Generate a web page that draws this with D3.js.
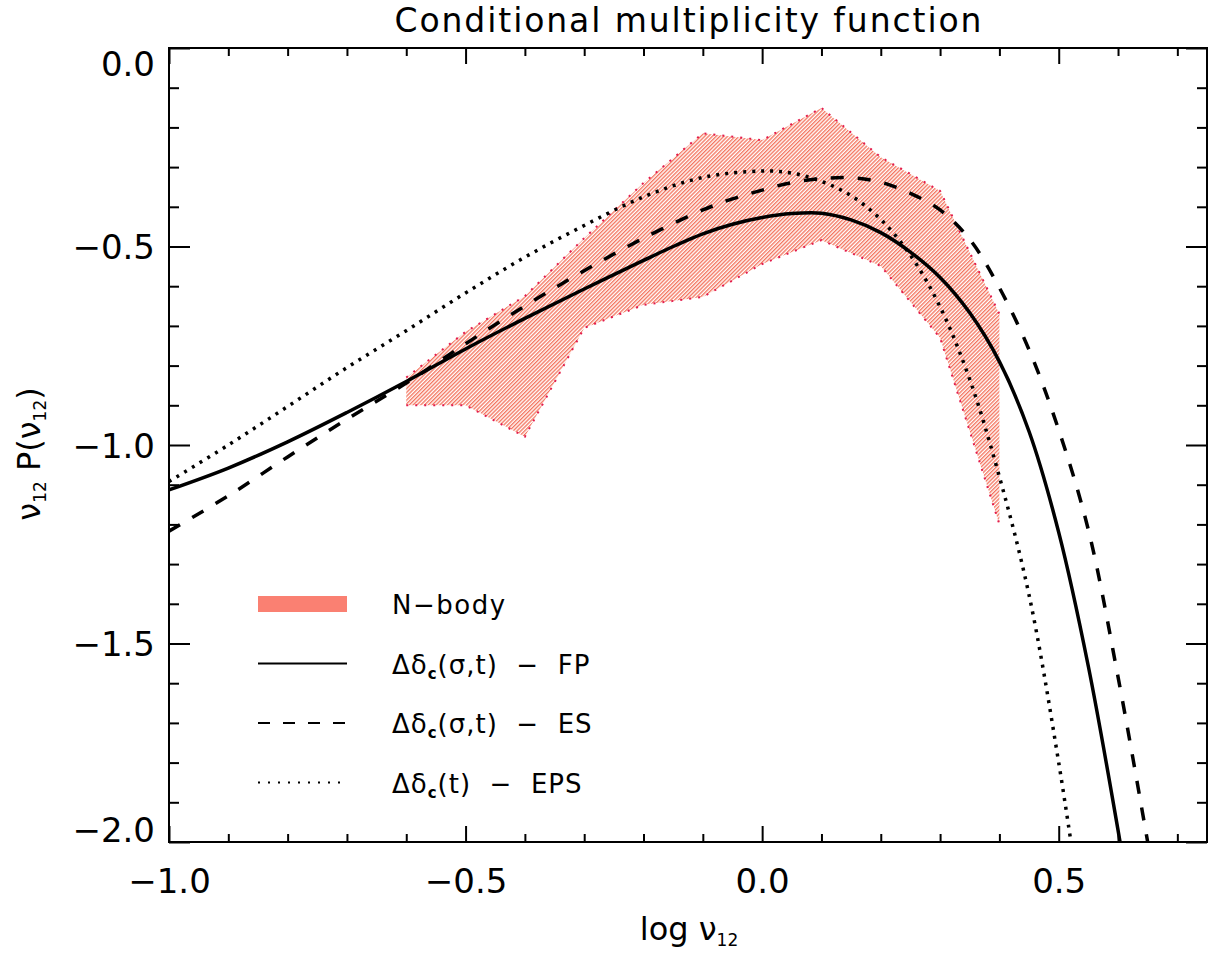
<!DOCTYPE html>
<html>
<head>
<meta charset="utf-8">
<script src="https://cdn.jsdelivr.net/npm/d3@7"></script>
<style>
  body { margin: 0; background: #fff; }
  svg text { font-family: "DejaVu Sans", sans-serif; fill: #000; white-space: pre; }
</style>
</head>
<body>
<script>
// N-body band (upper / lower edge)
const nbodyX = [-0.6, -0.5, -0.4, -0.3, -0.2, -0.1, 0.0, 0.1, 0.2, 0.3, 0.4]
const nbodyHi = [-0.83, -0.715, -0.625, -0.479, -0.34, -0.215, -0.232, -0.151, -0.275, -0.36, -0.67]
const nbodyLo = [-0.90, -0.90, -0.979, -0.705, -0.647, -0.627, -0.544, -0.484, -0.549, -0.73, -1.20]

// Delta delta_c(sigma,t) - FP  (solid)
const fpX = [-1.0, -0.9, -0.8, -0.7, -0.6, -0.5, -0.4, -0.3, -0.2, -0.15, -0.1, -0.05, 0.0, 0.05, 0.1, 0.15, 0.2, 0.25, 0.3, 0.35, 0.4, 0.45, 0.5, 0.55, 0.6, 0.62]
const fpY = [-1.113, -1.058, -0.992, -0.918, -0.840, -0.758, -0.681, -0.607, -0.535, -0.500, -0.468, -0.444, -0.427, -0.417, -0.416, -0.433, -0.465, -0.514, -0.578, -0.667, -0.790, -0.966, -1.220, -1.558, -1.970, -2.15]

// Delta delta_c(sigma,t) - ES  (dashed)
const esX = [-1.0, -0.9, -0.8, -0.7, -0.6, -0.5, -0.4, -0.3, -0.2, -0.1, -0.05, 0.0, 0.05, 0.1, 0.15, 0.2, 0.25, 0.3, 0.35, 0.4, 0.45, 0.5, 0.55, 0.6, 0.65, 0.67]
const esY = [-1.217, -1.128, -1.030, -0.935, -0.844, -0.745, -0.650, -0.561, -0.479, -0.408, -0.380, -0.358, -0.339, -0.329, -0.327, -0.338, -0.366, -0.408, -0.482, -0.604, -0.760, -0.962, -1.214, -1.584, -2.0, -2.17]

// Delta delta_c(t) - EPS  (dotted)
const epsX = [-1.0, -0.9, -0.8, -0.7, -0.6, -0.5, -0.4, -0.3, -0.2, -0.1, 0.0, 0.05, 0.1, 0.15, 0.2, 0.25, 0.3, 0.35, 0.4, 0.45, 0.5, 0.55]
const epsY = [-1.092, -1.0, -0.903, -0.805, -0.712, -0.617, -0.527, -0.447, -0.375, -0.326, -0.310, -0.315, -0.336, -0.372, -0.432, -0.522, -0.652, -0.835, -1.08, -1.378, -1.80, -2.3]

const xMajor = [-1.0, -0.5, 0.0, 0.5]
const yMajor = [-2.0, -1.5, -1.0, -0.5, 0.0]
const xMinor = d3.range(-9, 8).map(i => i / 10).filter(v => !xMajor.some(m => Math.abs(m - v) < 1e-9))
const yMinor = d3.range(-19, 0).map(i => i / 10).filter(v => !yMajor.some(m => Math.abs(m - v) < 1e-9))

const width = 1220
const height = 954
const plotL = 169, plotR = 1207, plotT = 48, plotB = 842

const x = d3.scaleLinear().domain([-1.0, 0.75]).range([plotL, plotR])
const y = d3.scaleLinear().domain([-2.0, 0.0]).range([plotB, plotT])

const fmt = d => (d < 0 ? '\u2212' : '') + Math.abs(d).toFixed(1)

const svg = d3.select('body').append('svg')
  .attr('width', width)
  .attr('height', height)

const defs = svg.append('defs')
defs.append('clipPath').attr('id', 'plot')
  .append('rect')
  .attr('x', plotL).attr('y', plotT)
  .attr('width', plotR - plotL).attr('height', plotB - plotT)

defs.append('pattern')
  .attr('id', 'hatch')
  .attr('patternUnits', 'userSpaceOnUse')
  .attr('width', 2.7).attr('height', 2.7)
  .attr('patternTransform', 'rotate(45)')
  .append('rect')
  .attr('width', 1.35).attr('height', 2.7)
  .attr('fill', '#f4755f')

// axes
function styleAxis(g) {
  g.select('.domain').remove()
  g.selectAll('line').attr('stroke', '#000').attr('stroke-width', 2)
  g.selectAll('text').style('font-size', '34px').attr('fill', '#000')
}

svg.append('g')
  .attr('transform', `translate(0,${plotB})`)
  .call(d3.axisBottom(x).tickValues(xMajor).tickFormat(fmt).tickSizeInner(-16).tickSizeOuter(0).tickPadding(27))
  .call(styleAxis)
svg.append('g')
  .attr('transform', `translate(0,${plotB})`)
  .call(d3.axisBottom(x).tickValues(xMinor).tickFormat('').tickSizeInner(-8).tickSizeOuter(0))
  .call(styleAxis)
svg.append('g')
  .attr('transform', `translate(0,${plotT})`)
  .call(d3.axisTop(x).tickValues(xMajor).tickFormat('').tickSizeInner(-16).tickSizeOuter(0))
  .call(styleAxis)
svg.append('g')
  .attr('transform', `translate(0,${plotT})`)
  .call(d3.axisTop(x).tickValues(xMinor).tickFormat('').tickSizeInner(-8).tickSizeOuter(0))
  .call(styleAxis)

const yAxis = svg.append('g')
  .attr('transform', `translate(${plotL},0)`)
  .call(d3.axisLeft(y).tickValues(yMajor).tickFormat(fmt).tickSizeInner(-21).tickSizeOuter(0).tickPadding(14))
  .call(styleAxis)
yAxis.selectAll('.tick text')
  .attr('dy', d => d === 0 ? '0.8em' : d === -2 ? '-0.02em' : '0.36em')
svg.append('g')
  .attr('transform', `translate(${plotL},0)`)
  .call(d3.axisLeft(y).tickValues(yMinor).tickFormat('').tickSizeInner(-10).tickSizeOuter(0))
  .call(styleAxis)
svg.append('g')
  .attr('transform', `translate(${plotR},0)`)
  .call(d3.axisRight(y).tickValues(yMajor).tickFormat('').tickSizeInner(-21).tickSizeOuter(0))
  .call(styleAxis)
svg.append('g')
  .attr('transform', `translate(${plotR},0)`)
  .call(d3.axisRight(y).tickValues(yMinor).tickFormat('').tickSizeInner(-10).tickSizeOuter(0))
  .call(styleAxis)

// data layer
const plot = svg.append('g').attr('clip-path', 'url(#plot)')

const band = nbodyX.map((v, i) => ({ x: v, lo: nbodyLo[i], hi: nbodyHi[i] }))
plot.append('path')
  .datum(band)
  .attr('fill', 'url(#hatch)')
  .attr('d', d3.area().x(d => x(d.x)).y0(d => y(d.lo)).y1(d => y(d.hi)))

const edge = d3.line().x(d => x(d[0])).y(d => y(d[1]))
;[nbodyHi, nbodyLo].forEach(arr => {
  plot.append('path')
    .datum(nbodyX.map((v, i) => [v, arr[i]]))
    .attr('fill', 'none')
    .attr('stroke', '#e31d4c')
    .attr('stroke-width', 2)
    .attr('stroke-dasharray', '2,7')
    .attr('d', edge)
})

const curve = d3.line().x(d => x(d[0])).y(d => y(d[1])).curve(d3.curveCatmullRom.alpha(0.5))
const series = [
  { xs: fpX, ys: fpY, dash: null },
  { xs: esX, ys: esY, dash: '13,14' },
  { xs: epsX, ys: epsY, dash: '3,6' },
]
series.forEach(s => {
  plot.append('path')
    .datum(s.xs.map((v, i) => [v, s.ys[i]]))
    .attr('fill', 'none')
    .attr('stroke', '#000')
    .attr('stroke-width', 3.5)
    .attr('stroke-dasharray', s.dash)
    .attr('d', curve)
})

// frame
svg.append('rect')
  .attr('x', plotL).attr('y', plotT)
  .attr('width', plotR - plotL).attr('height', plotB - plotT)
  .attr('fill', 'none')
  .attr('stroke', '#000')
  .attr('stroke-width', 2)

// title and axis labels
svg.append('text')
  .attr('x', (plotL + plotR) / 2)
  .attr('y', 32)
  .attr('text-anchor', 'middle')
  .attr('textLength', 587)
  .attr('lengthAdjust', 'spacing')
  .style('font-size', '33px')
  .text('Conditional multiplicity function')

const xl = svg.append('text')
  .attr('x', 689)
  .attr('y', 940)
  .attr('text-anchor', 'middle')
  .style('font-size', '32px')
xl.append('tspan').text('log \u03bd')
xl.append('tspan').attr('dy', 6).style('font-size', '17px').text('12')

const yl = svg.append('text')
  .attr('transform', 'translate(40,454) rotate(-90)')
  .attr('text-anchor', 'middle')
  .style('font-size', '32px')
yl.append('tspan').text('\u03bd')
yl.append('tspan').attr('dy', 6).style('font-size', '17px').text('12')
yl.append('tspan').attr('dy', -6).text(' P(\u03bd')
yl.append('tspan').attr('dy', 6).style('font-size', '17px').text('12')
yl.append('tspan').attr('dy', -6).text(')')

// legend
const legTop = 604
const legStep = 59.5
const legend = svg.append('g')
legend.append('rect')
  .attr('x', 258).attr('y', legTop - 8)
  .attr('width', 89).attr('height', 16)
  .attr('fill', '#fa8072')
const legLines = [
  { dash: null, label: ['(\u03c3,t)  \u2212  FP'] },
  { dash: '12,13', label: ['(\u03c3,t)  \u2212  ES'] },
  { dash: '2,8', label: ['(t)  \u2212  EPS'] },
]
legLines.forEach((l, i) => {
  const ly = legTop + legStep * (i + 1)
  legend.append('line')
    .attr('x1', 258).attr('x2', 347)
    .attr('y1', ly).attr('y2', ly)
    .attr('stroke', '#000')
    .attr('stroke-width', 2)
    .attr('stroke-dasharray', l.dash)
  const t = legend.append('text')
    .attr('x', 392).attr('y', ly + 10)
    .style('font-size', '26px')
    .style('letter-spacing', '1px')
  t.append('tspan').text('\u0394\u03b4')
  t.append('tspan').attr('dy', 5).style('font-size', '15px').style('font-weight', 'bold').text('c')
  t.append('tspan').attr('dy', -5).text(l.label[0])
})
legend.append('text')
  .attr('x', 392).attr('y', legTop + 10)
  .style('font-size', '26px')
  .style('letter-spacing', '1.5px')
  .text('N\u2212body')
</script>
</body>
</html>
